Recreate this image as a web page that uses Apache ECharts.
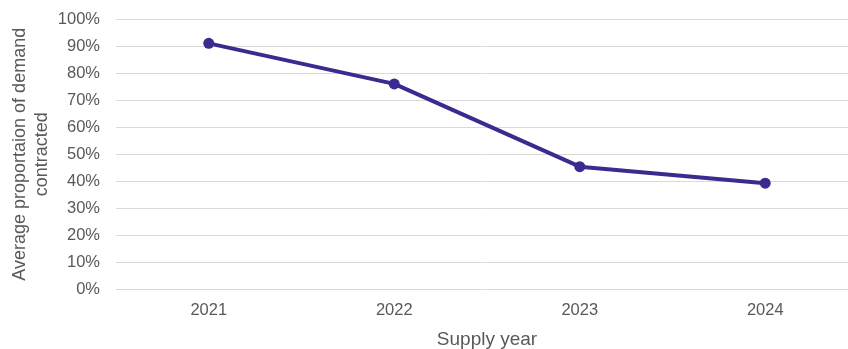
<!DOCTYPE html>
<html><head><meta charset="utf-8">
<script src="https://cdn.jsdelivr.net/npm/echarts@6/dist/echarts.min.js"></script>
<style>html,body{margin:0;padding:0;background:#fff}#c{width:848px;height:349px}</style>
</head><body><div id="c"></div>
<script>
var categories = ['2021', '2022', '2023', '2024'];
var values = [0.91, 0.76, 0.454, 0.393];
var chart = echarts.init(document.getElementById('c'));
chart.setOption({
  animation: false,
  grid: { left: 116, top: 19, width: 742, bottom: 59.5, containLabel: false, outerBoundsMode: 'none' },
  xAxis: {
    type: 'category', data: categories, boundaryGap: true,
    axisLine: { show: false }, axisTick: { show: false },
    axisLabel: { color: '#595959', fontFamily: 'Arial, Liberation Sans', fontSize: 16.5, margin: 12 },
    name: 'Supply year', nameLocation: 'middle', nameGap: 41, nameMoveOverlap: false,
    nameTextStyle: { color: '#595959', fontFamily: 'Arial, Liberation Sans', fontSize: 19 }
  },
  yAxis: {
    type: 'value', min: 0, max: 1, interval: 0.1,
    axisLine: { show: false }, axisTick: { show: false },
    splitLine: { lineStyle: { color: '#d9d9d9', width: 1 } },
    axisLabel: { color: '#595959', fontFamily: 'Arial, Liberation Sans', fontSize: 16.5, margin: 16,
      formatter: function (v) { return Math.round(v * 100) + '%'; } },
    name: 'Average proportaion of demand\ncontracted', nameLocation: 'middle', nameGap: 63, nameMoveOverlap: false,
    nameTextStyle: { color: '#595959', fontFamily: 'Arial, Liberation Sans', fontSize: 18, lineHeight: 22, align: 'center' }
  },
  series: [{
    type: 'line', data: values, symbol: 'circle', symbolSize: 11,
    lineStyle: { color: '#3d2a8e', width: 4 },
    itemStyle: { color: '#3d2a8e' }
  }]
});
</script></body></html>
